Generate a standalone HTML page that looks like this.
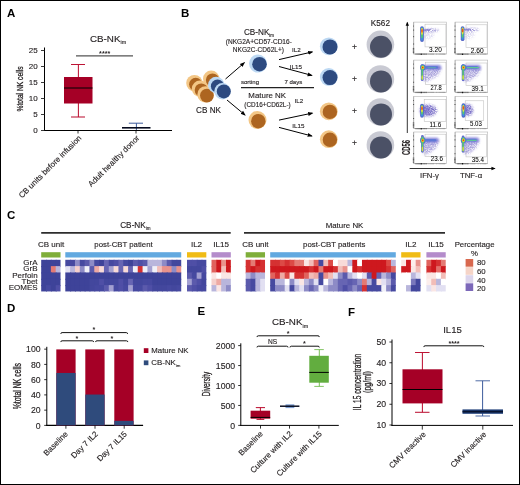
<!DOCTYPE html>
<html lang="en"><head><meta charset="utf-8"><title>Figure</title>
<style>html,body{margin:0;padding:0;background:#fff}svg{display:block;will-change:transform}text{font-family:'Liberation Sans', Arial, Helvetica, sans-serif;}</style></head><body>
<svg width="520" height="485" viewBox="0 0 520 485">
<defs>
<marker id="ah" viewBox="0 0 10 10" refX="8" refY="5" markerWidth="5.4" markerHeight="5.2" orient="auto-start-reverse" markerUnits="userSpaceOnUse"><path d="M0 1.2 L10 5 L0 8.8 z" fill="#000"/></marker>
<marker id="ah2" viewBox="0 0 10 10" refX="8" refY="5" markerWidth="4.6" markerHeight="4.2" orient="auto-start-reverse" markerUnits="userSpaceOnUse"><path d="M0 1 L10 5 L0 9 z" fill="#000"/></marker>
<filter id="b1" x="-30%" y="-30%" width="160%" height="160%"><feGaussianBlur stdDeviation="0.55"/></filter>
<filter id="b2" x="-50%" y="-50%" width="200%" height="200%"><feGaussianBlur stdDeviation="1.6"/></filter>
<filter id="b3" x="-50%" y="-50%" width="200%" height="200%"><feGaussianBlur stdDeviation="0.9"/></filter>
<filter id="sp1" x="-40%" y="-40%" width="180%" height="180%"><feGaussianBlur in="SourceGraphic" stdDeviation="1.3" result="bl"/><feTurbulence type="fractalNoise" baseFrequency="0.85" numOctaves="2" seed="7" result="n"/><feColorMatrix in="n" type="matrix" values="0 0 0 0 0  0 0 0 0 0  0 0 0 0 0  2.6 0 0 0 -0.75" result="m"/><feComposite in="bl" in2="m" operator="in"/></filter>
<filter id="sp2" x="-40%" y="-40%" width="180%" height="180%"><feGaussianBlur in="SourceGraphic" stdDeviation="1.3" result="bl"/><feTurbulence type="fractalNoise" baseFrequency="0.85" numOctaves="2" seed="14" result="n"/><feColorMatrix in="n" type="matrix" values="0 0 0 0 0  0 0 0 0 0  0 0 0 0 0  2.6 0 0 0 -0.75" result="m"/><feComposite in="bl" in2="m" operator="in"/></filter>
<filter id="sp3" x="-40%" y="-40%" width="180%" height="180%"><feGaussianBlur in="SourceGraphic" stdDeviation="1.3" result="bl"/><feTurbulence type="fractalNoise" baseFrequency="0.85" numOctaves="2" seed="21" result="n"/><feColorMatrix in="n" type="matrix" values="0 0 0 0 0  0 0 0 0 0  0 0 0 0 0  2.6 0 0 0 -0.75" result="m"/><feComposite in="bl" in2="m" operator="in"/></filter>
<filter id="sp4" x="-40%" y="-40%" width="180%" height="180%"><feGaussianBlur in="SourceGraphic" stdDeviation="1.3" result="bl"/><feTurbulence type="fractalNoise" baseFrequency="0.85" numOctaves="2" seed="28" result="n"/><feColorMatrix in="n" type="matrix" values="0 0 0 0 0  0 0 0 0 0  0 0 0 0 0  2.6 0 0 0 -0.75" result="m"/><feComposite in="bl" in2="m" operator="in"/></filter>
</defs>
<rect x="0" y="0" width="520" height="485" fill="#fff"/>
<text transform="translate(7.00 17.20)" font-size="11.5" text-anchor="start" font-weight="bold" fill="#000">A</text>
<text transform="translate(181.00 17.00)" font-size="11.5" text-anchor="start" font-weight="bold" fill="#000">B</text>
<text transform="translate(7.00 219.00)" font-size="11.5" text-anchor="start" font-weight="bold" fill="#000">C</text>
<text transform="translate(7.00 312.30)" font-size="11.5" text-anchor="start" font-weight="bold" fill="#000">D</text>
<text transform="translate(197.50 314.60)" font-size="11.5" text-anchor="start" font-weight="bold" fill="#000">E</text>
<text transform="translate(348.00 315.60)" font-size="11.5" text-anchor="start" font-weight="bold" fill="#000">F</text>
<g id="panelA">
<text transform="translate(90.00 42.00)" font-size="9.8" text-anchor="start" fill="#231f20" stroke="#231f20" stroke-width="0.13">CB-NK<tspan font-size="5.39" dy="2.45">im</tspan></text>
<line x1="44.50" y1="47.50" x2="44.50" y2="131.00" stroke="#000" stroke-width="1"/>
<line x1="44.00" y1="130.50" x2="172.00" y2="130.50" stroke="#000" stroke-width="1"/>
<line x1="41.00" y1="130.50" x2="44.50" y2="130.50" stroke="#222" stroke-width="0.9"/>
<text transform="translate(37.60 133.35)" font-size="8.0" text-anchor="end" fill="#231f20" stroke="#231f20" stroke-width="0.13">0</text>
<line x1="41.00" y1="114.50" x2="44.50" y2="114.50" stroke="#222" stroke-width="0.9"/>
<text transform="translate(37.60 117.35)" font-size="8.0" text-anchor="end" fill="#231f20" stroke="#231f20" stroke-width="0.13">5</text>
<line x1="41.00" y1="98.50" x2="44.50" y2="98.50" stroke="#222" stroke-width="0.9"/>
<text transform="translate(37.60 101.35)" font-size="8.0" text-anchor="end" fill="#231f20" stroke="#231f20" stroke-width="0.13">10</text>
<line x1="41.00" y1="82.50" x2="44.50" y2="82.50" stroke="#222" stroke-width="0.9"/>
<text transform="translate(37.60 85.35)" font-size="8.0" text-anchor="end" fill="#231f20" stroke="#231f20" stroke-width="0.13">15</text>
<line x1="41.00" y1="66.50" x2="44.50" y2="66.50" stroke="#222" stroke-width="0.9"/>
<text transform="translate(37.60 69.35)" font-size="8.0" text-anchor="end" fill="#231f20" stroke="#231f20" stroke-width="0.13">20</text>
<line x1="41.00" y1="50.50" x2="44.50" y2="50.50" stroke="#222" stroke-width="0.9"/>
<text transform="translate(37.60 53.35)" font-size="8.0" text-anchor="end" fill="#231f20" stroke="#231f20" stroke-width="0.13">25</text>
<text transform="translate(23.10 89.00) rotate(-90) scale(0.69 1)" font-size="9.7" text-anchor="middle" fill="#231f20" stroke="#231f20" stroke-width="0.3">%total NK cells</text>
<line x1="76.00" y1="55.80" x2="133.00" y2="55.80" stroke="#555" stroke-width="1.2"/>
<text transform="translate(104.70 55.90)" font-size="7.2" text-anchor="middle" font-weight="bold" fill="#231f20">****</text>
<line x1="78.40" y1="64.50" x2="78.40" y2="117.00" stroke="#bd1435" stroke-width="1.05"/>
<line x1="71.00" y1="64.50" x2="85.00" y2="64.50" stroke="#bd1435" stroke-width="1.05"/>
<line x1="71.00" y1="117.00" x2="85.00" y2="117.00" stroke="#bd1435" stroke-width="1.05"/>
<rect x="64.00" y="77.00" width="28.50" height="26.50" fill="#a50026"/>
<line x1="64.00" y1="88.00" x2="92.50" y2="88.00" stroke="#000" stroke-width="1"/>
<line x1="136.40" y1="123.20" x2="136.40" y2="130.00" stroke="#3d5c9c" stroke-width="1.0"/>
<line x1="128.80" y1="123.20" x2="143.00" y2="123.20" stroke="#3d5c9c" stroke-width="1.0"/>
<line x1="122.00" y1="127.80" x2="150.50" y2="127.80" stroke="#050a1e" stroke-width="1.6"/>
<line x1="78.00" y1="130.50" x2="78.00" y2="133.50" stroke="#000" stroke-width="0.8"/>
<line x1="136.00" y1="130.50" x2="136.00" y2="133.50" stroke="#000" stroke-width="0.8"/>
<text transform="translate(82.00 138.50) rotate(-45)" font-size="8.0" text-anchor="end" fill="#231f20" stroke="#231f20" stroke-width="0.13">CB units before infusion</text>
<text transform="translate(140.00 138.50) rotate(-45)" font-size="8.0" text-anchor="end" fill="#231f20" stroke="#231f20" stroke-width="0.13">Adult healthy donor</text>
</g>
<g id="panelB">
<circle cx="194.40" cy="83.10" r="8.20" fill="#f3c685"/>
<circle cx="195.70" cy="84.30" r="6.60" fill="#ad6520"/>
<circle cx="211.20" cy="78.80" r="8.20" fill="#f3c685"/>
<circle cx="212.50" cy="80.00" r="6.60" fill="#ad6520"/>
<circle cx="200.00" cy="88.80" r="8.20" fill="#f3c685"/>
<circle cx="201.30" cy="90.00" r="6.60" fill="#ad6520"/>
<circle cx="205.60" cy="94.40" r="8.20" fill="#f3c685"/>
<circle cx="206.90" cy="95.60" r="6.90" fill="#ad6520"/>
<circle cx="216.20" cy="85.00" r="8.20" fill="#bcd8f3"/>
<circle cx="217.50" cy="86.20" r="6.60" fill="#2d4a80"/>
<circle cx="222.50" cy="91.20" r="8.20" fill="#bcd8f3"/>
<circle cx="223.80" cy="91.40" r="7.00" fill="#2d4a80"/>
<text transform="translate(208.50 113.20)" font-size="8.2" text-anchor="middle" fill="#231f20" stroke="#231f20" stroke-width="0.13">CB NK</text>
<text transform="translate(259.00 34.60)" font-size="8.2" text-anchor="middle" fill="#231f20" stroke="#231f20" stroke-width="0.13">CB-NK<tspan font-size="4.51" dy="2.05">im</tspan></text>
<text transform="translate(258.80 43.80)" font-size="6.55" text-anchor="middle" fill="#231f20" stroke="#231f20" stroke-width="0.13">(NKG2A+CD57-CD16-</text>
<text transform="translate(258.40 51.60)" font-size="6.55" text-anchor="middle" fill="#231f20" stroke="#231f20" stroke-width="0.13">NKG2C-CD62L+)</text>
<text transform="translate(267.20 97.90)" font-size="7.9" text-anchor="middle" fill="#231f20" stroke="#231f20" stroke-width="0.13">Mature NK</text>
<text transform="translate(267.50 106.80)" font-size="6.4" text-anchor="middle" fill="#231f20" stroke="#231f20" stroke-width="0.13">(CD16+CD62L-)</text>
<text transform="translate(250.00 84.20)" font-size="6.05" text-anchor="middle" fill="#231f20" stroke="#231f20" stroke-width="0.13">sorting</text>
<text transform="translate(293.30 84.20)" font-size="6.05" text-anchor="middle" fill="#231f20" stroke="#231f20" stroke-width="0.13">7 days</text>
<line x1="241.00" y1="87.60" x2="314.00" y2="87.60" stroke="#222" stroke-width="1.1"/>
<circle cx="258.00" cy="63.60" r="9.00" fill="#bcd8f3"/>
<circle cx="259.50" cy="64.20" r="7.30" fill="#2d4a80"/>
<circle cx="257.50" cy="120.00" r="9.00" fill="#f3c685"/>
<circle cx="258.30" cy="121.20" r="7.20" fill="#ad6520"/>
<line x1="225.5" y1="79" x2="244.3" y2="62.8" stroke="#000" stroke-width="1.0" marker-end="url(#ah)"/>
<line x1="227" y1="100" x2="245" y2="115" stroke="#000" stroke-width="1.0" marker-end="url(#ah)"/>
<line x1="279" y1="59.6" x2="312.3" y2="51.9" stroke="#000" stroke-width="1.0" marker-end="url(#ah)"/>
<line x1="279" y1="66.5" x2="311.8" y2="75.4" stroke="#000" stroke-width="1.0" marker-end="url(#ah)"/>
<line x1="279" y1="120.1" x2="312.3" y2="113.1" stroke="#000" stroke-width="1.0" marker-end="url(#ah)"/>
<line x1="279" y1="127.4" x2="311.8" y2="136.0" stroke="#000" stroke-width="1.0" marker-end="url(#ah)"/>
<text transform="translate(296.30 52.30)" font-size="6.25" text-anchor="middle" fill="#231f20" stroke="#231f20" stroke-width="0.13">IL2</text>
<text transform="translate(295.80 69.00)" font-size="6.25" text-anchor="middle" fill="#231f20" stroke="#231f20" stroke-width="0.13">IL15</text>
<text transform="translate(298.80 102.80)" font-size="6.25" text-anchor="middle" fill="#231f20" stroke="#231f20" stroke-width="0.13">IL2</text>
<text transform="translate(298.30 127.80)" font-size="6.25" text-anchor="middle" fill="#231f20" stroke="#231f20" stroke-width="0.13">IL15</text>
<circle cx="328.80" cy="46.30" r="8.90" fill="#bcd8f3"/>
<circle cx="330.00" cy="46.90" r="7.50" fill="#2d4a80"/>
<circle cx="328.80" cy="77.00" r="8.90" fill="#bcd8f3"/>
<circle cx="330.00" cy="77.60" r="7.50" fill="#2d4a80"/>
<circle cx="328.80" cy="111.30" r="8.90" fill="#f3c685"/>
<circle cx="329.90" cy="111.90" r="7.20" fill="#ad6520"/>
<circle cx="328.80" cy="139.20" r="8.90" fill="#f3c685"/>
<circle cx="329.90" cy="139.80" r="7.20" fill="#ad6520"/>
<text transform="translate(354.40 49.60)" font-size="8.5" text-anchor="middle" fill="#231f20" stroke="#231f20" stroke-width="0.13">+</text>
<text transform="translate(354.40 81.90)" font-size="8.5" text-anchor="middle" fill="#231f20" stroke="#231f20" stroke-width="0.13">+</text>
<text transform="translate(354.40 113.70)" font-size="8.5" text-anchor="middle" fill="#231f20" stroke="#231f20" stroke-width="0.13">+</text>
<text transform="translate(354.40 146.10)" font-size="8.5" text-anchor="middle" fill="#231f20" stroke="#231f20" stroke-width="0.13">+</text>
<text transform="translate(380.40 25.90)" font-size="8.2" text-anchor="middle" fill="#231f20" stroke="#231f20" stroke-width="0.13">K562</text>
<circle cx="380.40" cy="44.40" r="13.80" fill="#c9cad3"/>
<circle cx="381.00" cy="46.80" r="11.00" fill="#4b5166"/>
<circle cx="380.40" cy="79.00" r="13.80" fill="#c9cad3"/>
<circle cx="381.00" cy="81.40" r="11.00" fill="#4b5166"/>
<circle cx="380.40" cy="112.00" r="13.80" fill="#c9cad3"/>
<circle cx="381.00" cy="114.40" r="11.00" fill="#4b5166"/>
<circle cx="380.40" cy="145.00" r="13.80" fill="#c9cad3"/>
<circle cx="381.00" cy="147.40" r="11.00" fill="#4b5166"/>
<line x1="407.3" y1="133" x2="407.3" y2="22.5" stroke="#000" stroke-width="0.8" marker-end="url(#ah2)"/>
<line x1="409.6" y1="168.5" x2="494.8" y2="168.5" stroke="#000" stroke-width="0.8" marker-end="url(#ah2)"/>
<text transform="translate(410.10 147.50) rotate(-90) scale(0.585 1)" font-size="10.2" text-anchor="middle" font-weight="bold" fill="#231f20" stroke="#231f20" stroke-width="0.12">CD56</text>
<text transform="translate(429.40 178.30)" font-size="7.7" text-anchor="middle" fill="#231f20" stroke="#231f20" stroke-width="0.13">IFN-γ</text>
<text transform="translate(471.00 178.30)" font-size="7.8" text-anchor="middle" fill="#231f20" stroke="#231f20" stroke-width="0.13">TNF-α</text>
<g>
<rect x="413.70" y="22.10" width="32.60" height="31.90" fill="#fff" stroke="#b4b4b4" stroke-width="0.6"/>
<path d="M413.70 22.10V54.00H446.30" fill="none" stroke="#9c9c9c" stroke-width="0.6"/>
<path d="M413.20 26.09h0.80M413.00 30.08h1.12M413.00 36.65h1.12M413.00 44.03h1.12M412.80 48.42h1.44M412.80 49.81h1.44M412.80 51.21h1.44M412.80 52.60h1.44" stroke="#3a3a3a" stroke-width="0.8" fill="none"/>
<path d="M415.90 53.50v1.3M417.10 53.50v1.3M418.20 53.50v1.3M419.20 53.50v1.3M420.10 53.50v1.3M422.20 53.50v1.3M423.40 53.50v1.3M424.50 53.50v1.3M425.70 53.50v1.3M426.70 53.50v1.3" stroke="#333" stroke-width="0.55" fill="none"/>
<path d="M420.70 54.20h1" stroke="#000" stroke-width="1.4" fill="none"/>
<path d="M428.70 53.60v1.1M429.90 53.60v1.1M430.90 53.60v1.1M431.80 53.60v1.1M432.70 53.60v1.1M433.50 53.60v1.1M436.70 53.60v1.1M439.20 53.60v1.1M440.70 53.60v1.1M441.90 53.60v1.1M442.90 53.60v1.1M443.70 53.60v1.1M444.50 53.60v1.1" stroke="#8a8a8a" stroke-width="0.5" fill="none"/>
<rect x="425.00" y="24.20" width="20.90" height="22.70" fill="none" stroke="#bdbdbd" stroke-width="0.55"/>
<g filter="url(#sp1)">
<ellipse cx="430.75" cy="30.20" rx="8.25" ry="1.5" fill="#766cc6" opacity="0.95"/>
<ellipse cx="428.00" cy="34.30" rx="6" ry="5" fill="#766cc6" opacity="0.25"/>
</g>
<ellipse cx="426.50" cy="30.00" rx="3.8" ry="1.0" fill="#6a60c8" opacity="0.55" filter="url(#b1)"/>
<g filter="url(#b1)">
<rect x="420.15" y="26.20" width="3.7" height="15.70" rx="1.85" fill="#5565c6"/>
<rect x="420.85" y="27.20" width="2.3" height="13.50" rx="1.1" fill="#3f90dc"/>
<rect x="421.15" y="27.80" width="1.7" height="10.36" rx="0.8" fill="#58cc6e"/>
<ellipse cx="422.00" cy="31.40" rx="0.95" ry="3.4" fill="#e9e23a"/>
<ellipse cx="422.00" cy="30.80" rx="0.8" ry="1.9" fill="#f0501e"/>
</g>
<text transform="translate(435.43 51.80) scale(1.016 1)" font-size="6.4" text-anchor="middle" fill="#000" stroke="#000" stroke-width="0.05">3.20</text>
</g>
<g>
<rect x="455.10" y="22.10" width="32.60" height="31.90" fill="#fff" stroke="#b4b4b4" stroke-width="0.6"/>
<path d="M455.10 22.10V54.00H487.70" fill="none" stroke="#9c9c9c" stroke-width="0.6"/>
<path d="M454.60 26.09h0.80M454.40 30.08h1.12M454.40 36.65h1.12M454.40 44.03h1.12M454.20 48.42h1.44M454.20 49.81h1.44M454.20 51.21h1.44M454.20 52.60h1.44" stroke="#3a3a3a" stroke-width="0.8" fill="none"/>
<path d="M457.30 53.50v1.3M458.50 53.50v1.3M459.60 53.50v1.3M460.60 53.50v1.3M461.50 53.50v1.3M463.60 53.50v1.3M464.80 53.50v1.3M465.90 53.50v1.3M467.10 53.50v1.3M468.10 53.50v1.3" stroke="#333" stroke-width="0.55" fill="none"/>
<path d="M462.10 54.20h1" stroke="#000" stroke-width="1.4" fill="none"/>
<path d="M470.10 53.60v1.1M471.30 53.60v1.1M472.30 53.60v1.1M473.20 53.60v1.1M474.10 53.60v1.1M474.90 53.60v1.1M478.10 53.60v1.1M480.60 53.60v1.1M482.10 53.60v1.1M483.30 53.60v1.1M484.30 53.60v1.1M485.10 53.60v1.1M485.90 53.60v1.1" stroke="#8a8a8a" stroke-width="0.5" fill="none"/>
<rect x="466.00" y="24.80" width="21.00" height="22.50" fill="none" stroke="#bdbdbd" stroke-width="0.55"/>
<g filter="url(#sp2)">
<ellipse cx="471.05" cy="29.80" rx="7.95" ry="1.5" fill="#766cc6" opacity="0.95"/>
<ellipse cx="468.60" cy="33.90" rx="6" ry="5" fill="#766cc6" opacity="0.25"/>
</g>
<ellipse cx="467.10" cy="29.60" rx="3.8" ry="1.0" fill="#6a60c8" opacity="0.55" filter="url(#b1)"/>
<g filter="url(#b1)">
<rect x="460.75" y="26.20" width="3.7" height="14.90" rx="1.85" fill="#5565c6"/>
<rect x="461.45" y="27.20" width="2.3" height="12.70" rx="1.1" fill="#3f90dc"/>
<rect x="461.75" y="27.80" width="1.7" height="9.83" rx="0.8" fill="#58cc6e"/>
<ellipse cx="462.60" cy="31.00" rx="0.95" ry="3.4" fill="#e9e23a"/>
<ellipse cx="462.60" cy="30.40" rx="0.8" ry="1.9" fill="#f0501e"/>
</g>
<text transform="translate(477.27 52.60) scale(1.04 1)" font-size="6.4" text-anchor="middle" fill="#000" stroke="#000" stroke-width="0.05">2.60</text>
</g>
<g>
<rect x="413.70" y="60.10" width="32.60" height="32.20" fill="#fff" stroke="#b4b4b4" stroke-width="0.6"/>
<path d="M413.70 60.10V92.30H446.30" fill="none" stroke="#9c9c9c" stroke-width="0.6"/>
<path d="M413.20 64.12h0.80M413.00 68.15h1.12M413.00 74.79h1.12M413.00 82.24h1.12M412.80 86.66h1.44M412.80 88.07h1.44M412.80 89.48h1.44M412.80 90.89h1.44" stroke="#3a3a3a" stroke-width="0.8" fill="none"/>
<path d="M415.90 91.80v1.3M417.10 91.80v1.3M418.20 91.80v1.3M419.20 91.80v1.3M420.10 91.80v1.3M422.20 91.80v1.3M423.40 91.80v1.3M424.50 91.80v1.3M425.70 91.80v1.3M426.70 91.80v1.3" stroke="#333" stroke-width="0.55" fill="none"/>
<path d="M420.70 92.50h1" stroke="#000" stroke-width="1.4" fill="none"/>
<path d="M428.70 91.90v1.1M429.90 91.90v1.1M430.90 91.90v1.1M431.80 91.90v1.1M432.70 91.90v1.1M433.50 91.90v1.1M436.70 91.90v1.1M439.20 91.90v1.1M440.70 91.90v1.1M441.90 91.90v1.1M442.90 91.90v1.1M443.70 91.90v1.1M444.50 91.90v1.1" stroke="#8a8a8a" stroke-width="0.5" fill="none"/>
<rect x="425.30" y="62.20" width="20.60" height="22.30" fill="none" stroke="#bdbdbd" stroke-width="0.55"/>
<path d="M423.30 68.50 L440.30 68.50 L437.30 74.50 L426.80 80.00 L423.30 80.50 z" fill="#766cc6" opacity="0.2" filter="url(#b2)"/>
<g filter="url(#sp3)">
<path d="M423.30 68.50 L441.80 68.50 L438.30 75.50 L427.80 81.50 L423.30 81.50 z" fill="#766cc6" opacity="0.55"/>
</g>
<rect x="423.80" y="64.90" width="17.50" height="5.0" rx="2.5" fill="#6f6cd2" opacity="0.85" filter="url(#b3)"/>
<rect x="424.30" y="66.00" width="13.69" height="2.7" rx="1.3" fill="#4f74d6" opacity="0.7" filter="url(#b1)"/>
<rect x="427.50" y="67.00" width="8.50" height="1.2" rx="0.6" fill="#5fcf8f" opacity="0.45" filter="url(#b1)"/>
<g filter="url(#b1)">
<rect x="420.85" y="64.20" width="2.7" height="16.80" rx="1.35" fill="#626ace"/>
<ellipse cx="422.80" cy="67.50" rx="2.7" ry="3.3" fill="#626ace"/>
<ellipse cx="422.80" cy="67.50" rx="2.1" ry="2.7" fill="#3f88dc"/>
<rect x="421.45" y="65.70" width="1.5" height="14.20" rx="0.75" fill="#58cc6e"/>
<ellipse cx="422.80" cy="67.50" rx="1.75" ry="2.3" fill="#5fcf62"/>
<ellipse cx="422.80" cy="67.50" rx="1.3" ry="1.75" fill="#efe22e"/>
<ellipse cx="422.80" cy="67.50" rx="0.85" ry="1.05" fill="#f0401a"/>
<ellipse cx="422.20" cy="77.60" rx="0.75" ry="2.4" fill="#d8e23a"/>
</g>
<text transform="translate(436.18 90.20) scale(0.9 1)" font-size="6.4" text-anchor="middle" fill="#000" stroke="#000" stroke-width="0.05">27.8</text>
</g>
<g>
<rect x="455.10" y="60.10" width="32.60" height="32.20" fill="#fff" stroke="#b4b4b4" stroke-width="0.6"/>
<path d="M455.10 60.10V92.30H487.70" fill="none" stroke="#9c9c9c" stroke-width="0.6"/>
<path d="M454.60 64.12h0.80M454.40 68.15h1.12M454.40 74.79h1.12M454.40 82.24h1.12M454.20 86.66h1.44M454.20 88.07h1.44M454.20 89.48h1.44M454.20 90.89h1.44" stroke="#3a3a3a" stroke-width="0.8" fill="none"/>
<path d="M457.30 91.80v1.3M458.50 91.80v1.3M459.60 91.80v1.3M460.60 91.80v1.3M461.50 91.80v1.3M463.60 91.80v1.3M464.80 91.80v1.3M465.90 91.80v1.3M467.10 91.80v1.3M468.10 91.80v1.3" stroke="#333" stroke-width="0.55" fill="none"/>
<path d="M462.10 92.50h1" stroke="#000" stroke-width="1.4" fill="none"/>
<path d="M470.10 91.90v1.1M471.30 91.90v1.1M472.30 91.90v1.1M473.20 91.90v1.1M474.10 91.90v1.1M474.90 91.90v1.1M478.10 91.90v1.1M480.60 91.90v1.1M482.10 91.90v1.1M483.30 91.90v1.1M484.30 91.90v1.1M485.10 91.90v1.1M485.90 91.90v1.1" stroke="#8a8a8a" stroke-width="0.5" fill="none"/>
<rect x="466.00" y="63.00" width="21.00" height="22.30" fill="none" stroke="#bdbdbd" stroke-width="0.55"/>
<path d="M464.00 68.50 L479.90 68.50 L476.90 74.50 L467.50 80.00 L464.00 80.50 z" fill="#766cc6" opacity="0.2" filter="url(#b2)"/>
<g filter="url(#sp4)">
<path d="M464.00 68.50 L481.40 68.50 L477.90 75.50 L468.50 81.50 L464.00 81.50 z" fill="#766cc6" opacity="0.55"/>
</g>
<rect x="464.50" y="64.90" width="16.40" height="5.0" rx="2.5" fill="#6f6cd2" opacity="0.85" filter="url(#b3)"/>
<rect x="465.00" y="66.00" width="12.88" height="2.7" rx="1.3" fill="#4f74d6" opacity="0.7" filter="url(#b1)"/>
<rect x="466.80" y="67.00" width="12.40" height="1.2" rx="0.6" fill="#5fcf8f" opacity="0.9" filter="url(#b1)"/>
<g filter="url(#b1)">
<rect x="461.75" y="64.20" width="2.7" height="17.00" rx="1.35" fill="#626ace"/>
<ellipse cx="463.50" cy="67.50" rx="2.7" ry="3.3" fill="#626ace"/>
<ellipse cx="463.50" cy="67.50" rx="2.1" ry="2.7" fill="#3f88dc"/>
<rect x="462.35" y="65.70" width="1.5" height="14.40" rx="0.75" fill="#58cc6e"/>
<ellipse cx="463.50" cy="67.50" rx="1.75" ry="2.3" fill="#5fcf62"/>
<ellipse cx="463.50" cy="67.50" rx="1.3" ry="1.75" fill="#efe22e"/>
<ellipse cx="463.50" cy="67.50" rx="0.85" ry="1.05" fill="#f0401a"/>
<ellipse cx="463.10" cy="77.40" rx="0.75" ry="2.4" fill="#d8e23a"/>
</g>
<text transform="translate(477.68 90.50) scale(0.975 1)" font-size="6.4" text-anchor="middle" fill="#000" stroke="#000" stroke-width="0.05">39.1</text>
</g>
<g>
<rect x="413.70" y="96.50" width="32.60" height="32.00" fill="#fff" stroke="#b4b4b4" stroke-width="0.6"/>
<path d="M413.70 96.50V128.50H446.30" fill="none" stroke="#9c9c9c" stroke-width="0.6"/>
<path d="M413.20 100.50h0.80M413.00 104.50h1.12M413.00 111.10h1.12M413.00 118.50h1.12M412.80 122.90h1.44M412.80 124.30h1.44M412.80 125.70h1.44M412.80 127.10h1.44" stroke="#3a3a3a" stroke-width="0.8" fill="none"/>
<path d="M415.90 128.00v1.3M417.10 128.00v1.3M418.20 128.00v1.3M419.20 128.00v1.3M420.10 128.00v1.3M422.20 128.00v1.3M423.40 128.00v1.3M424.50 128.00v1.3M425.70 128.00v1.3M426.70 128.00v1.3" stroke="#333" stroke-width="0.55" fill="none"/>
<path d="M420.70 128.70h1" stroke="#000" stroke-width="1.4" fill="none"/>
<path d="M428.70 128.10v1.1M429.90 128.10v1.1M430.90 128.10v1.1M431.80 128.10v1.1M432.70 128.10v1.1M433.50 128.10v1.1M436.70 128.10v1.1M439.20 128.10v1.1M440.70 128.10v1.1M441.90 128.10v1.1M442.90 128.10v1.1M443.70 128.10v1.1M444.50 128.10v1.1" stroke="#8a8a8a" stroke-width="0.5" fill="none"/>
<rect x="424.20" y="99.60" width="21.70" height="21.90" fill="none" stroke="#bdbdbd" stroke-width="0.55"/>
<ellipse cx="427.78" cy="110.50" rx="7.60" ry="5.2" fill="#766cc6" opacity="0.35" filter="url(#b2)"/>
<g filter="url(#sp1)">
<ellipse cx="428.38" cy="110.50" rx="8.82" ry="6.0" fill="#766cc6" opacity="0.95"/>
</g>
<ellipse cx="425.80" cy="110.30" rx="4.56" ry="4.6" fill="#6a62c6" opacity="0.5" filter="url(#b3)"/>
<g filter="url(#b1)">
<rect x="420.15" y="103.70" width="3.7" height="14.00" rx="1.85" fill="#5565c6"/>
<rect x="420.85" y="104.70" width="2.3" height="11.80" rx="1.1" fill="#3f90dc"/>
<rect x="421.15" y="105.30" width="1.7" height="9.24" rx="0.8" fill="#58cc6e"/>
<ellipse cx="422.00" cy="108.90" rx="0.95" ry="3.4" fill="#e9e23a"/>
<ellipse cx="422.00" cy="108.30" rx="0.8" ry="1.9" fill="#f0501e"/>
</g>
<text transform="translate(435.35 126.80) scale(0.993 1)" font-size="6.4" text-anchor="middle" fill="#000" stroke="#000" stroke-width="0.05">11.6</text>
</g>
<g>
<rect x="455.10" y="96.50" width="32.60" height="32.00" fill="#fff" stroke="#b4b4b4" stroke-width="0.6"/>
<path d="M455.10 96.50V128.50H487.70" fill="none" stroke="#9c9c9c" stroke-width="0.6"/>
<path d="M454.60 100.50h0.80M454.40 104.50h1.12M454.40 111.10h1.12M454.40 118.50h1.12M454.20 122.90h1.44M454.20 124.30h1.44M454.20 125.70h1.44M454.20 127.10h1.44" stroke="#3a3a3a" stroke-width="0.8" fill="none"/>
<path d="M457.30 128.00v1.3M458.50 128.00v1.3M459.60 128.00v1.3M460.60 128.00v1.3M461.50 128.00v1.3M463.60 128.00v1.3M464.80 128.00v1.3M465.90 128.00v1.3M467.10 128.00v1.3M468.10 128.00v1.3" stroke="#333" stroke-width="0.55" fill="none"/>
<path d="M462.10 128.70h1" stroke="#000" stroke-width="1.4" fill="none"/>
<path d="M470.10 128.10v1.1M471.30 128.10v1.1M472.30 128.10v1.1M473.20 128.10v1.1M474.10 128.10v1.1M474.90 128.10v1.1M478.10 128.10v1.1M480.60 128.10v1.1M482.10 128.10v1.1M483.30 128.10v1.1M484.30 128.10v1.1M485.10 128.10v1.1M485.90 128.10v1.1" stroke="#8a8a8a" stroke-width="0.5" fill="none"/>
<rect x="465.20" y="100.80" width="18.55" height="19.80" fill="none" stroke="#bdbdbd" stroke-width="0.55"/>
<ellipse cx="467.20" cy="110.00" rx="5.00" ry="5.2" fill="#766cc6" opacity="0.35" filter="url(#b2)"/>
<g filter="url(#sp2)">
<ellipse cx="467.60" cy="110.00" rx="5.80" ry="6.0" fill="#766cc6" opacity="0.95"/>
</g>
<ellipse cx="465.90" cy="109.80" rx="3.00" ry="4.6" fill="#6a62c6" opacity="0.5" filter="url(#b3)"/>
<g filter="url(#b1)">
<rect x="461.55" y="103.30" width="3.7" height="14.40" rx="1.85" fill="#5565c6"/>
<rect x="462.25" y="104.30" width="2.3" height="12.20" rx="1.1" fill="#3f90dc"/>
<rect x="462.55" y="104.90" width="1.7" height="9.50" rx="0.8" fill="#58cc6e"/>
<ellipse cx="463.40" cy="108.40" rx="0.95" ry="3.4" fill="#e9e23a"/>
<ellipse cx="463.40" cy="107.80" rx="0.8" ry="1.9" fill="#f0501e"/>
</g>
<text transform="translate(475.95 125.60) scale(0.955 1)" font-size="6.4" text-anchor="middle" fill="#000" stroke="#000" stroke-width="0.05">5.03</text>
</g>
<g>
<rect x="413.70" y="132.00" width="32.60" height="31.60" fill="#fff" stroke="#b4b4b4" stroke-width="0.6"/>
<path d="M413.70 132.00V163.60H446.30" fill="none" stroke="#9c9c9c" stroke-width="0.6"/>
<path d="M413.20 135.95h0.80M413.00 139.90h1.12M413.00 146.42h1.12M413.00 153.72h1.12M412.80 158.07h1.44M412.80 159.45h1.44M412.80 160.83h1.44M412.80 162.22h1.44" stroke="#3a3a3a" stroke-width="0.8" fill="none"/>
<path d="M415.90 163.10v1.3M417.10 163.10v1.3M418.20 163.10v1.3M419.20 163.10v1.3M420.10 163.10v1.3M422.20 163.10v1.3M423.40 163.10v1.3M424.50 163.10v1.3M425.70 163.10v1.3M426.70 163.10v1.3" stroke="#333" stroke-width="0.55" fill="none"/>
<path d="M420.70 163.80h1" stroke="#000" stroke-width="1.4" fill="none"/>
<path d="M428.70 163.20v1.1M429.90 163.20v1.1M430.90 163.20v1.1M431.80 163.20v1.1M432.70 163.20v1.1M433.50 163.20v1.1M436.70 163.20v1.1M439.20 163.20v1.1M440.70 163.20v1.1M441.90 163.20v1.1M442.90 163.20v1.1M443.70 163.20v1.1M444.50 163.20v1.1" stroke="#8a8a8a" stroke-width="0.5" fill="none"/>
<rect x="425.00" y="134.20" width="20.90" height="22.30" fill="none" stroke="#bdbdbd" stroke-width="0.55"/>
<path d="M423.30 141.40 L437.90 141.40 L434.90 147.40 L426.80 152.90 L423.30 153.40 z" fill="#766cc6" opacity="0.2" filter="url(#b2)"/>
<g filter="url(#sp3)">
<path d="M423.30 141.40 L439.40 141.40 L435.90 148.40 L427.80 154.40 L423.30 154.40 z" fill="#766cc6" opacity="0.55"/>
</g>
<rect x="423.80" y="137.80" width="15.10" height="5.0" rx="2.5" fill="#6f6cd2" opacity="0.85" filter="url(#b3)"/>
<rect x="424.30" y="138.90" width="11.91" height="2.7" rx="1.3" fill="#4f74d6" opacity="0.7" filter="url(#b1)"/>
<g filter="url(#b1)">
<rect x="421.05" y="135.00" width="2.7" height="17.70" rx="1.35" fill="#626ace"/>
<ellipse cx="422.80" cy="140.40" rx="2.7" ry="3.3" fill="#626ace"/>
<ellipse cx="422.80" cy="140.40" rx="2.1" ry="2.7" fill="#3f88dc"/>
<rect x="421.65" y="136.50" width="1.5" height="15.10" rx="0.75" fill="#58cc6e"/>
<ellipse cx="422.80" cy="140.40" rx="1.75" ry="2.3" fill="#5fcf62"/>
<ellipse cx="422.80" cy="140.40" rx="1.3" ry="1.75" fill="#efe22e"/>
<ellipse cx="422.80" cy="140.40" rx="0.85" ry="1.05" fill="#f0401a"/>
<ellipse cx="422.40" cy="149.00" rx="0.75" ry="2.4" fill="#d8e23a"/>
</g>
<text transform="translate(436.90 161.40) scale(0.979 1)" font-size="6.4" text-anchor="middle" fill="#000" stroke="#000" stroke-width="0.05">23.6</text>
</g>
<g>
<rect x="455.10" y="132.00" width="32.60" height="31.60" fill="#fff" stroke="#b4b4b4" stroke-width="0.6"/>
<path d="M455.10 132.00V163.60H487.70" fill="none" stroke="#9c9c9c" stroke-width="0.6"/>
<path d="M454.60 135.95h0.80M454.40 139.90h1.12M454.40 146.42h1.12M454.40 153.72h1.12M454.20 158.07h1.44M454.20 159.45h1.44M454.20 160.83h1.44M454.20 162.22h1.44" stroke="#3a3a3a" stroke-width="0.8" fill="none"/>
<path d="M457.30 163.10v1.3M458.50 163.10v1.3M459.60 163.10v1.3M460.60 163.10v1.3M461.50 163.10v1.3M463.60 163.10v1.3M464.80 163.10v1.3M465.90 163.10v1.3M467.10 163.10v1.3M468.10 163.10v1.3" stroke="#333" stroke-width="0.55" fill="none"/>
<path d="M462.10 163.80h1" stroke="#000" stroke-width="1.4" fill="none"/>
<path d="M470.10 163.20v1.1M471.30 163.20v1.1M472.30 163.20v1.1M473.20 163.20v1.1M474.10 163.20v1.1M474.90 163.20v1.1M478.10 163.20v1.1M480.60 163.20v1.1M482.10 163.20v1.1M483.30 163.20v1.1M484.30 163.20v1.1M485.10 163.20v1.1M485.90 163.20v1.1" stroke="#8a8a8a" stroke-width="0.5" fill="none"/>
<rect x="466.00" y="134.60" width="20.60" height="22.30" fill="none" stroke="#bdbdbd" stroke-width="0.55"/>
<path d="M464.00 141.20 L478.20 141.20 L475.20 147.20 L467.50 152.70 L464.00 153.20 z" fill="#766cc6" opacity="0.2" filter="url(#b2)"/>
<g filter="url(#sp4)">
<path d="M464.00 141.20 L479.70 141.20 L476.20 148.20 L468.50 154.20 L464.00 154.20 z" fill="#766cc6" opacity="0.55"/>
</g>
<rect x="464.50" y="137.60" width="14.70" height="5.0" rx="2.5" fill="#6f6cd2" opacity="0.85" filter="url(#b3)"/>
<rect x="465.00" y="138.70" width="11.62" height="2.7" rx="1.3" fill="#4f74d6" opacity="0.7" filter="url(#b1)"/>
<rect x="466.40" y="139.70" width="10.30" height="1.2" rx="0.6" fill="#5fcf8f" opacity="0.9" filter="url(#b1)"/>
<g filter="url(#b1)">
<rect x="461.75" y="135.40" width="2.7" height="17.30" rx="1.35" fill="#626ace"/>
<ellipse cx="463.50" cy="140.20" rx="2.7" ry="3.3" fill="#626ace"/>
<ellipse cx="463.50" cy="140.20" rx="2.1" ry="2.7" fill="#3f88dc"/>
<rect x="462.35" y="136.90" width="1.5" height="14.70" rx="0.75" fill="#58cc6e"/>
<ellipse cx="463.50" cy="140.20" rx="1.75" ry="2.3" fill="#5fcf62"/>
<ellipse cx="463.50" cy="140.20" rx="1.3" ry="1.75" fill="#efe22e"/>
<ellipse cx="463.50" cy="140.20" rx="0.85" ry="1.05" fill="#f0401a"/>
<ellipse cx="463.10" cy="149.00" rx="0.75" ry="2.4" fill="#d8e23a"/>
</g>
<text transform="translate(477.90 161.80) scale(0.979 1)" font-size="6.4" text-anchor="middle" fill="#000" stroke="#000" stroke-width="0.05">35.4</text>
</g>
</g>
<g id="panelC">
<rect x="41.20" y="252.20" width="19.32" height="5.30" fill="#7fae3a"/>
<rect x="41.20" y="259.80" width="5.83" height="7.33" fill="#3e4399"/>
<rect x="46.03" y="259.80" width="5.83" height="7.33" fill="#3e4399"/>
<rect x="50.86" y="259.80" width="5.83" height="7.33" fill="#3e4399"/>
<rect x="55.69" y="259.80" width="4.83" height="7.33" fill="#3e4399"/>
<rect x="41.20" y="266.13" width="5.83" height="7.33" fill="#3e4399"/>
<rect x="46.03" y="266.13" width="5.83" height="7.33" fill="#3e4399"/>
<rect x="50.86" y="266.13" width="5.83" height="7.33" fill="#e47a74"/>
<rect x="55.69" y="266.13" width="4.83" height="7.33" fill="#b9b6dc"/>
<rect x="41.20" y="272.46" width="5.83" height="7.33" fill="#3e4399"/>
<rect x="46.03" y="272.46" width="5.83" height="7.33" fill="#3e4399"/>
<rect x="50.86" y="272.46" width="5.83" height="7.33" fill="#3e4399"/>
<rect x="55.69" y="272.46" width="4.83" height="7.33" fill="#3e4399"/>
<rect x="41.20" y="278.79" width="5.83" height="7.33" fill="#3e4399"/>
<rect x="46.03" y="278.79" width="5.83" height="7.33" fill="#3e4399"/>
<rect x="50.86" y="278.79" width="5.83" height="7.33" fill="#3e4399"/>
<rect x="55.69" y="278.79" width="4.83" height="7.33" fill="#3e4399"/>
<rect x="41.20" y="285.12" width="5.83" height="6.33" fill="#3e4399"/>
<rect x="46.03" y="285.12" width="5.83" height="6.33" fill="#4649a0"/>
<rect x="50.86" y="285.12" width="5.83" height="6.33" fill="#3e4399"/>
<rect x="55.69" y="285.12" width="4.83" height="6.33" fill="#4f4fa6"/>
<rect x="65.30" y="252.20" width="115.92" height="5.30" fill="#62a9e0"/>
<rect x="65.30" y="259.80" width="5.83" height="7.33" fill="#4649a0"/>
<rect x="70.13" y="259.80" width="5.83" height="7.33" fill="#4649a0"/>
<rect x="74.96" y="259.80" width="5.83" height="7.33" fill="#8d8bc6"/>
<rect x="79.79" y="259.80" width="5.83" height="7.33" fill="#4649a0"/>
<rect x="84.62" y="259.80" width="5.83" height="7.33" fill="#5b5aac"/>
<rect x="89.45" y="259.80" width="5.83" height="7.33" fill="#8d8bc6"/>
<rect x="94.28" y="259.80" width="5.83" height="7.33" fill="#4649a0"/>
<rect x="99.11" y="259.80" width="5.83" height="7.33" fill="#3e4399"/>
<rect x="103.94" y="259.80" width="5.83" height="7.33" fill="#6765b3"/>
<rect x="108.77" y="259.80" width="5.83" height="7.33" fill="#4649a0"/>
<rect x="113.60" y="259.80" width="5.83" height="7.33" fill="#4f4fa6"/>
<rect x="118.43" y="259.80" width="5.83" height="7.33" fill="#6765b3"/>
<rect x="123.26" y="259.80" width="5.83" height="7.33" fill="#4649a0"/>
<rect x="128.09" y="259.80" width="5.83" height="7.33" fill="#3e4399"/>
<rect x="132.92" y="259.80" width="5.83" height="7.33" fill="#5b5aac"/>
<rect x="137.75" y="259.80" width="5.83" height="7.33" fill="#4f4fa6"/>
<rect x="142.58" y="259.80" width="5.83" height="7.33" fill="#5b5aac"/>
<rect x="147.41" y="259.80" width="5.83" height="7.33" fill="#b9b6dc"/>
<rect x="152.24" y="259.80" width="5.83" height="7.33" fill="#b9b6dc"/>
<rect x="157.07" y="259.80" width="5.83" height="7.33" fill="#b9b6dc"/>
<rect x="161.90" y="259.80" width="5.83" height="7.33" fill="#8d8bc6"/>
<rect x="166.73" y="259.80" width="5.83" height="7.33" fill="#5b5aac"/>
<rect x="171.56" y="259.80" width="5.83" height="7.33" fill="#43479d"/>
<rect x="176.39" y="259.80" width="4.83" height="7.33" fill="#43479d"/>
<rect x="65.30" y="266.13" width="5.83" height="7.33" fill="#e2e0f2"/>
<rect x="70.13" y="266.13" width="5.83" height="7.33" fill="#b9b6dc"/>
<rect x="74.96" y="266.13" width="5.83" height="7.33" fill="#f5d0cc"/>
<rect x="79.79" y="266.13" width="5.83" height="7.33" fill="#8d8bc6"/>
<rect x="84.62" y="266.13" width="5.83" height="7.33" fill="#f0f0f8"/>
<rect x="89.45" y="266.13" width="5.83" height="7.33" fill="#5b5aac"/>
<rect x="94.28" y="266.13" width="5.83" height="7.33" fill="#eeaaa4"/>
<rect x="99.11" y="266.13" width="5.83" height="7.33" fill="#f8dbd8"/>
<rect x="103.94" y="266.13" width="5.83" height="7.33" fill="#6765b3"/>
<rect x="108.77" y="266.13" width="5.83" height="7.33" fill="#a3a0d1"/>
<rect x="113.60" y="266.13" width="5.83" height="7.33" fill="#f8dbd8"/>
<rect x="118.43" y="266.13" width="5.83" height="7.33" fill="#6765b3"/>
<rect x="123.26" y="266.13" width="5.83" height="7.33" fill="#f8dbd8"/>
<rect x="128.09" y="266.13" width="5.83" height="7.33" fill="#6765b3"/>
<rect x="132.92" y="266.13" width="5.83" height="7.33" fill="#f0f0f8"/>
<rect x="137.75" y="266.13" width="5.83" height="7.33" fill="#d53132"/>
<rect x="142.58" y="266.13" width="5.83" height="7.33" fill="#f0f0f8"/>
<rect x="147.41" y="266.13" width="5.83" height="7.33" fill="#a3a0d1"/>
<rect x="152.24" y="266.13" width="5.83" height="7.33" fill="#f0f0f8"/>
<rect x="157.07" y="266.13" width="5.83" height="7.33" fill="#f2bdb8"/>
<rect x="161.90" y="266.13" width="5.83" height="7.33" fill="#e9928c"/>
<rect x="166.73" y="266.13" width="5.83" height="7.33" fill="#e9928c"/>
<rect x="171.56" y="266.13" width="5.83" height="7.33" fill="#8d8bc6"/>
<rect x="176.39" y="266.13" width="4.83" height="7.33" fill="#e9928c"/>
<rect x="65.30" y="272.46" width="5.83" height="7.33" fill="#3e4399"/>
<rect x="70.13" y="272.46" width="5.83" height="7.33" fill="#3e4399"/>
<rect x="74.96" y="272.46" width="5.83" height="7.33" fill="#3e4399"/>
<rect x="79.79" y="272.46" width="5.83" height="7.33" fill="#3e4399"/>
<rect x="84.62" y="272.46" width="5.83" height="7.33" fill="#3e4399"/>
<rect x="89.45" y="272.46" width="5.83" height="7.33" fill="#3e4399"/>
<rect x="94.28" y="272.46" width="5.83" height="7.33" fill="#3e4399"/>
<rect x="99.11" y="272.46" width="5.83" height="7.33" fill="#3e4399"/>
<rect x="103.94" y="272.46" width="5.83" height="7.33" fill="#3e4399"/>
<rect x="108.77" y="272.46" width="5.83" height="7.33" fill="#3e4399"/>
<rect x="113.60" y="272.46" width="5.83" height="7.33" fill="#3e4399"/>
<rect x="118.43" y="272.46" width="5.83" height="7.33" fill="#3e4399"/>
<rect x="123.26" y="272.46" width="5.83" height="7.33" fill="#3e4399"/>
<rect x="128.09" y="272.46" width="5.83" height="7.33" fill="#3e4399"/>
<rect x="132.92" y="272.46" width="5.83" height="7.33" fill="#3e4399"/>
<rect x="137.75" y="272.46" width="5.83" height="7.33" fill="#3e4399"/>
<rect x="142.58" y="272.46" width="5.83" height="7.33" fill="#3e4399"/>
<rect x="147.41" y="272.46" width="5.83" height="7.33" fill="#3e4399"/>
<rect x="152.24" y="272.46" width="5.83" height="7.33" fill="#3e4399"/>
<rect x="157.07" y="272.46" width="5.83" height="7.33" fill="#3e4399"/>
<rect x="161.90" y="272.46" width="5.83" height="7.33" fill="#3e4399"/>
<rect x="166.73" y="272.46" width="5.83" height="7.33" fill="#3e4399"/>
<rect x="171.56" y="272.46" width="5.83" height="7.33" fill="#3e4399"/>
<rect x="176.39" y="272.46" width="4.83" height="7.33" fill="#3e4399"/>
<rect x="65.30" y="278.79" width="5.83" height="7.33" fill="#3e4399"/>
<rect x="70.13" y="278.79" width="5.83" height="7.33" fill="#3e4399"/>
<rect x="74.96" y="278.79" width="5.83" height="7.33" fill="#3e4399"/>
<rect x="79.79" y="278.79" width="5.83" height="7.33" fill="#3e4399"/>
<rect x="84.62" y="278.79" width="5.83" height="7.33" fill="#3e4399"/>
<rect x="89.45" y="278.79" width="5.83" height="7.33" fill="#43479d"/>
<rect x="94.28" y="278.79" width="5.83" height="7.33" fill="#43479d"/>
<rect x="99.11" y="278.79" width="5.83" height="7.33" fill="#4f4fa6"/>
<rect x="103.94" y="278.79" width="5.83" height="7.33" fill="#43479d"/>
<rect x="108.77" y="278.79" width="5.83" height="7.33" fill="#43479d"/>
<rect x="113.60" y="278.79" width="5.83" height="7.33" fill="#43479d"/>
<rect x="118.43" y="278.79" width="5.83" height="7.33" fill="#4f4fa6"/>
<rect x="123.26" y="278.79" width="5.83" height="7.33" fill="#43479d"/>
<rect x="128.09" y="278.79" width="5.83" height="7.33" fill="#6765b3"/>
<rect x="132.92" y="278.79" width="5.83" height="7.33" fill="#43479d"/>
<rect x="137.75" y="278.79" width="5.83" height="7.33" fill="#43479d"/>
<rect x="142.58" y="278.79" width="5.83" height="7.33" fill="#4649a0"/>
<rect x="147.41" y="278.79" width="5.83" height="7.33" fill="#4649a0"/>
<rect x="152.24" y="278.79" width="5.83" height="7.33" fill="#3e4399"/>
<rect x="157.07" y="278.79" width="5.83" height="7.33" fill="#3e4399"/>
<rect x="161.90" y="278.79" width="5.83" height="7.33" fill="#3e4399"/>
<rect x="166.73" y="278.79" width="5.83" height="7.33" fill="#3e4399"/>
<rect x="171.56" y="278.79" width="5.83" height="7.33" fill="#3e4399"/>
<rect x="176.39" y="278.79" width="4.83" height="7.33" fill="#3e4399"/>
<rect x="65.30" y="285.12" width="5.83" height="6.33" fill="#3e4399"/>
<rect x="70.13" y="285.12" width="5.83" height="6.33" fill="#3e4399"/>
<rect x="74.96" y="285.12" width="5.83" height="6.33" fill="#3e4399"/>
<rect x="79.79" y="285.12" width="5.83" height="6.33" fill="#3e4399"/>
<rect x="84.62" y="285.12" width="5.83" height="6.33" fill="#3e4399"/>
<rect x="89.45" y="285.12" width="5.83" height="6.33" fill="#43479d"/>
<rect x="94.28" y="285.12" width="5.83" height="6.33" fill="#4649a0"/>
<rect x="99.11" y="285.12" width="5.83" height="6.33" fill="#4649a0"/>
<rect x="103.94" y="285.12" width="5.83" height="6.33" fill="#5b5aac"/>
<rect x="108.77" y="285.12" width="5.83" height="6.33" fill="#a3a0d1"/>
<rect x="113.60" y="285.12" width="5.83" height="6.33" fill="#4649a0"/>
<rect x="118.43" y="285.12" width="5.83" height="6.33" fill="#4f4fa6"/>
<rect x="123.26" y="285.12" width="5.83" height="6.33" fill="#4649a0"/>
<rect x="128.09" y="285.12" width="5.83" height="6.33" fill="#a3a0d1"/>
<rect x="132.92" y="285.12" width="5.83" height="6.33" fill="#4649a0"/>
<rect x="137.75" y="285.12" width="5.83" height="6.33" fill="#4649a0"/>
<rect x="142.58" y="285.12" width="5.83" height="6.33" fill="#5b5aac"/>
<rect x="147.41" y="285.12" width="5.83" height="6.33" fill="#4f4fa6"/>
<rect x="152.24" y="285.12" width="5.83" height="6.33" fill="#43479d"/>
<rect x="157.07" y="285.12" width="5.83" height="6.33" fill="#43479d"/>
<rect x="161.90" y="285.12" width="5.83" height="6.33" fill="#43479d"/>
<rect x="166.73" y="285.12" width="5.83" height="6.33" fill="#4649a0"/>
<rect x="171.56" y="285.12" width="5.83" height="6.33" fill="#43479d"/>
<rect x="176.39" y="285.12" width="4.83" height="6.33" fill="#4649a0"/>
<rect x="187.00" y="252.20" width="19.32" height="5.30" fill="#f0bc16"/>
<rect x="187.00" y="259.80" width="5.83" height="7.33" fill="#4f4fa6"/>
<rect x="191.83" y="259.80" width="5.83" height="7.33" fill="#4f4fa6"/>
<rect x="196.66" y="259.80" width="5.83" height="7.33" fill="#4649a0"/>
<rect x="201.49" y="259.80" width="4.83" height="7.33" fill="#4649a0"/>
<rect x="187.00" y="266.13" width="5.83" height="7.33" fill="#43479d"/>
<rect x="191.83" y="266.13" width="5.83" height="7.33" fill="#43479d"/>
<rect x="196.66" y="266.13" width="5.83" height="7.33" fill="#43479d"/>
<rect x="201.49" y="266.13" width="4.83" height="7.33" fill="#4f4fa6"/>
<rect x="187.00" y="272.46" width="5.83" height="7.33" fill="#5b5aac"/>
<rect x="191.83" y="272.46" width="5.83" height="7.33" fill="#4649a0"/>
<rect x="196.66" y="272.46" width="5.83" height="7.33" fill="#a3a0d1"/>
<rect x="201.49" y="272.46" width="4.83" height="7.33" fill="#4649a0"/>
<rect x="187.00" y="278.79" width="5.83" height="7.33" fill="#a3a0d1"/>
<rect x="191.83" y="278.79" width="5.83" height="7.33" fill="#5b5aac"/>
<rect x="196.66" y="278.79" width="5.83" height="7.33" fill="#4f4fa6"/>
<rect x="201.49" y="278.79" width="4.83" height="7.33" fill="#43479d"/>
<rect x="187.00" y="285.12" width="5.83" height="6.33" fill="#5b5aac"/>
<rect x="191.83" y="285.12" width="5.83" height="6.33" fill="#4f4fa6"/>
<rect x="196.66" y="285.12" width="5.83" height="6.33" fill="#4649a0"/>
<rect x="201.49" y="285.12" width="4.83" height="6.33" fill="#4649a0"/>
<rect x="211.50" y="252.20" width="19.32" height="5.30" fill="#b48ccb"/>
<rect x="211.50" y="259.80" width="5.83" height="7.33" fill="#e0625d"/>
<rect x="216.33" y="259.80" width="5.83" height="7.33" fill="#ce181e"/>
<rect x="221.16" y="259.80" width="5.83" height="7.33" fill="#e9928c"/>
<rect x="225.99" y="259.80" width="4.83" height="7.33" fill="#ce181e"/>
<rect x="211.50" y="266.13" width="5.83" height="7.33" fill="#e0625d"/>
<rect x="216.33" y="266.13" width="5.83" height="7.33" fill="#ce181e"/>
<rect x="221.16" y="266.13" width="5.83" height="7.33" fill="#f2bdb8"/>
<rect x="225.99" y="266.13" width="4.83" height="7.33" fill="#ce181e"/>
<rect x="211.50" y="272.46" width="5.83" height="7.33" fill="#fae6e4"/>
<rect x="216.33" y="272.46" width="5.83" height="7.33" fill="#ffffff"/>
<rect x="221.16" y="272.46" width="5.83" height="7.33" fill="#fae6e4"/>
<rect x="225.99" y="272.46" width="4.83" height="7.33" fill="#fae6e4"/>
<rect x="211.50" y="278.79" width="5.83" height="7.33" fill="#f5d0cc"/>
<rect x="216.33" y="278.79" width="5.83" height="7.33" fill="#eeaaa4"/>
<rect x="221.16" y="278.79" width="5.83" height="7.33" fill="#b9b6dc"/>
<rect x="225.99" y="278.79" width="4.83" height="7.33" fill="#b9b6dc"/>
<rect x="211.50" y="285.12" width="5.83" height="6.33" fill="#b9b6dc"/>
<rect x="216.33" y="285.12" width="5.83" height="6.33" fill="#fae6e4"/>
<rect x="221.16" y="285.12" width="5.83" height="6.33" fill="#b9b6dc"/>
<rect x="225.99" y="285.12" width="4.83" height="6.33" fill="#8d8bc6"/>
<rect x="245.70" y="252.20" width="19.32" height="5.30" fill="#7fae3a"/>
<rect x="245.70" y="259.80" width="5.83" height="7.33" fill="#d53132"/>
<rect x="250.53" y="259.80" width="5.83" height="7.33" fill="#e47a74"/>
<rect x="255.36" y="259.80" width="5.83" height="7.33" fill="#ce181e"/>
<rect x="260.19" y="259.80" width="4.83" height="7.33" fill="#d53132"/>
<rect x="245.70" y="266.13" width="5.83" height="7.33" fill="#d53132"/>
<rect x="250.53" y="266.13" width="5.83" height="7.33" fill="#ce181e"/>
<rect x="255.36" y="266.13" width="5.83" height="7.33" fill="#d53132"/>
<rect x="260.19" y="266.13" width="4.83" height="7.33" fill="#d53132"/>
<rect x="245.70" y="272.46" width="5.83" height="7.33" fill="#b9b6dc"/>
<rect x="250.53" y="272.46" width="5.83" height="7.33" fill="#8d8bc6"/>
<rect x="255.36" y="272.46" width="5.83" height="7.33" fill="#b9b6dc"/>
<rect x="260.19" y="272.46" width="4.83" height="7.33" fill="#b9b6dc"/>
<rect x="245.70" y="278.79" width="5.83" height="7.33" fill="#5b5aac"/>
<rect x="250.53" y="278.79" width="5.83" height="7.33" fill="#4649a0"/>
<rect x="255.36" y="278.79" width="5.83" height="7.33" fill="#b9b6dc"/>
<rect x="260.19" y="278.79" width="4.83" height="7.33" fill="#e2e0f2"/>
<rect x="245.70" y="285.12" width="5.83" height="6.33" fill="#5b5aac"/>
<rect x="250.53" y="285.12" width="5.83" height="6.33" fill="#4649a0"/>
<rect x="255.36" y="285.12" width="5.83" height="6.33" fill="#b9b6dc"/>
<rect x="260.19" y="285.12" width="4.83" height="6.33" fill="#e2e0f2"/>
<rect x="270.20" y="252.20" width="125.58" height="5.30" fill="#62a9e0"/>
<rect x="270.20" y="259.80" width="5.83" height="7.33" fill="#d53132"/>
<rect x="275.03" y="259.80" width="5.83" height="7.33" fill="#d53132"/>
<rect x="279.86" y="259.80" width="5.83" height="7.33" fill="#dc4a46"/>
<rect x="284.69" y="259.80" width="5.83" height="7.33" fill="#d53132"/>
<rect x="289.52" y="259.80" width="5.83" height="7.33" fill="#dc4a46"/>
<rect x="294.35" y="259.80" width="5.83" height="7.33" fill="#e47a74"/>
<rect x="299.18" y="259.80" width="5.83" height="7.33" fill="#e47a74"/>
<rect x="304.01" y="259.80" width="5.83" height="7.33" fill="#fae6e4"/>
<rect x="308.84" y="259.80" width="5.83" height="7.33" fill="#f2bdb8"/>
<rect x="313.67" y="259.80" width="5.83" height="7.33" fill="#e0625d"/>
<rect x="318.50" y="259.80" width="5.83" height="7.33" fill="#4649a0"/>
<rect x="323.33" y="259.80" width="5.83" height="7.33" fill="#f2bdb8"/>
<rect x="328.16" y="259.80" width="5.83" height="7.33" fill="#dc4a46"/>
<rect x="332.99" y="259.80" width="5.83" height="7.33" fill="#ffffff"/>
<rect x="337.82" y="259.80" width="5.83" height="7.33" fill="#f8dbd8"/>
<rect x="342.65" y="259.80" width="5.83" height="7.33" fill="#f8dbd8"/>
<rect x="347.48" y="259.80" width="5.83" height="7.33" fill="#b9b6dc"/>
<rect x="352.31" y="259.80" width="5.83" height="7.33" fill="#ce181e"/>
<rect x="357.14" y="259.80" width="5.83" height="7.33" fill="#ffffff"/>
<rect x="361.97" y="259.80" width="5.83" height="7.33" fill="#ce181e"/>
<rect x="366.80" y="259.80" width="5.83" height="7.33" fill="#ce181e"/>
<rect x="371.63" y="259.80" width="5.83" height="7.33" fill="#ce181e"/>
<rect x="376.46" y="259.80" width="5.83" height="7.33" fill="#ce181e"/>
<rect x="381.29" y="259.80" width="5.83" height="7.33" fill="#ce181e"/>
<rect x="386.12" y="259.80" width="5.83" height="7.33" fill="#dc4a46"/>
<rect x="390.95" y="259.80" width="4.83" height="7.33" fill="#b9b6dc"/>
<rect x="270.20" y="266.13" width="5.83" height="7.33" fill="#ce181e"/>
<rect x="275.03" y="266.13" width="5.83" height="7.33" fill="#ce181e"/>
<rect x="279.86" y="266.13" width="5.83" height="7.33" fill="#ce181e"/>
<rect x="284.69" y="266.13" width="5.83" height="7.33" fill="#ce181e"/>
<rect x="289.52" y="266.13" width="5.83" height="7.33" fill="#ce181e"/>
<rect x="294.35" y="266.13" width="5.83" height="7.33" fill="#ce181e"/>
<rect x="299.18" y="266.13" width="5.83" height="7.33" fill="#ce181e"/>
<rect x="304.01" y="266.13" width="5.83" height="7.33" fill="#ce181e"/>
<rect x="308.84" y="266.13" width="5.83" height="7.33" fill="#d53132"/>
<rect x="313.67" y="266.13" width="5.83" height="7.33" fill="#ce181e"/>
<rect x="318.50" y="266.13" width="5.83" height="7.33" fill="#e47a74"/>
<rect x="323.33" y="266.13" width="5.83" height="7.33" fill="#ce181e"/>
<rect x="328.16" y="266.13" width="5.83" height="7.33" fill="#ce181e"/>
<rect x="332.99" y="266.13" width="5.83" height="7.33" fill="#d53132"/>
<rect x="337.82" y="266.13" width="5.83" height="7.33" fill="#f2bdb8"/>
<rect x="342.65" y="266.13" width="5.83" height="7.33" fill="#e9928c"/>
<rect x="347.48" y="266.13" width="5.83" height="7.33" fill="#ffffff"/>
<rect x="352.31" y="266.13" width="5.83" height="7.33" fill="#ce181e"/>
<rect x="357.14" y="266.13" width="5.83" height="7.33" fill="#d53132"/>
<rect x="361.97" y="266.13" width="5.83" height="7.33" fill="#ce181e"/>
<rect x="366.80" y="266.13" width="5.83" height="7.33" fill="#ce181e"/>
<rect x="371.63" y="266.13" width="5.83" height="7.33" fill="#ce181e"/>
<rect x="376.46" y="266.13" width="5.83" height="7.33" fill="#ce181e"/>
<rect x="381.29" y="266.13" width="5.83" height="7.33" fill="#ce181e"/>
<rect x="386.12" y="266.13" width="5.83" height="7.33" fill="#d53132"/>
<rect x="390.95" y="266.13" width="4.83" height="7.33" fill="#e0625d"/>
<rect x="270.20" y="272.46" width="5.83" height="7.33" fill="#e0625d"/>
<rect x="275.03" y="272.46" width="5.83" height="7.33" fill="#d53132"/>
<rect x="279.86" y="272.46" width="5.83" height="7.33" fill="#eeaaa4"/>
<rect x="284.69" y="272.46" width="5.83" height="7.33" fill="#dc4a46"/>
<rect x="289.52" y="272.46" width="5.83" height="7.33" fill="#fae6e4"/>
<rect x="294.35" y="272.46" width="5.83" height="7.33" fill="#d53132"/>
<rect x="299.18" y="272.46" width="5.83" height="7.33" fill="#d53132"/>
<rect x="304.01" y="272.46" width="5.83" height="7.33" fill="#e0625d"/>
<rect x="308.84" y="272.46" width="5.83" height="7.33" fill="#f2bdb8"/>
<rect x="313.67" y="272.46" width="5.83" height="7.33" fill="#eeaaa4"/>
<rect x="318.50" y="272.46" width="5.83" height="7.33" fill="#4649a0"/>
<rect x="323.33" y="272.46" width="5.83" height="7.33" fill="#e9928c"/>
<rect x="328.16" y="272.46" width="5.83" height="7.33" fill="#f2bdb8"/>
<rect x="332.99" y="272.46" width="5.83" height="7.33" fill="#e2e0f2"/>
<rect x="337.82" y="272.46" width="5.83" height="7.33" fill="#8d8bc6"/>
<rect x="342.65" y="272.46" width="5.83" height="7.33" fill="#5b5aac"/>
<rect x="347.48" y="272.46" width="5.83" height="7.33" fill="#b9b6dc"/>
<rect x="352.31" y="272.46" width="5.83" height="7.33" fill="#e2e0f2"/>
<rect x="357.14" y="272.46" width="5.83" height="7.33" fill="#ffffff"/>
<rect x="361.97" y="272.46" width="5.83" height="7.33" fill="#e2e0f2"/>
<rect x="366.80" y="272.46" width="5.83" height="7.33" fill="#5b5aac"/>
<rect x="371.63" y="272.46" width="5.83" height="7.33" fill="#ce181e"/>
<rect x="376.46" y="272.46" width="5.83" height="7.33" fill="#6765b3"/>
<rect x="381.29" y="272.46" width="5.83" height="7.33" fill="#b9b6dc"/>
<rect x="386.12" y="272.46" width="5.83" height="7.33" fill="#8d8bc6"/>
<rect x="390.95" y="272.46" width="4.83" height="7.33" fill="#4649a0"/>
<rect x="270.20" y="278.79" width="5.83" height="7.33" fill="#4649a0"/>
<rect x="275.03" y="278.79" width="5.83" height="7.33" fill="#b9b6dc"/>
<rect x="279.86" y="278.79" width="5.83" height="7.33" fill="#b9b6dc"/>
<rect x="284.69" y="278.79" width="5.83" height="7.33" fill="#ffffff"/>
<rect x="289.52" y="278.79" width="5.83" height="7.33" fill="#8d8bc6"/>
<rect x="294.35" y="278.79" width="5.83" height="7.33" fill="#e2e0f2"/>
<rect x="299.18" y="278.79" width="5.83" height="7.33" fill="#fae6e4"/>
<rect x="304.01" y="278.79" width="5.83" height="7.33" fill="#b9b6dc"/>
<rect x="308.84" y="278.79" width="5.83" height="7.33" fill="#8d8bc6"/>
<rect x="313.67" y="278.79" width="5.83" height="7.33" fill="#e2e0f2"/>
<rect x="318.50" y="278.79" width="5.83" height="7.33" fill="#4649a0"/>
<rect x="323.33" y="278.79" width="5.83" height="7.33" fill="#ffffff"/>
<rect x="328.16" y="278.79" width="5.83" height="7.33" fill="#b9b6dc"/>
<rect x="332.99" y="278.79" width="5.83" height="7.33" fill="#8d8bc6"/>
<rect x="337.82" y="278.79" width="5.83" height="7.33" fill="#6765b3"/>
<rect x="342.65" y="278.79" width="5.83" height="7.33" fill="#6765b3"/>
<rect x="347.48" y="278.79" width="5.83" height="7.33" fill="#5b5aac"/>
<rect x="352.31" y="278.79" width="5.83" height="7.33" fill="#6765b3"/>
<rect x="357.14" y="278.79" width="5.83" height="7.33" fill="#8d8bc6"/>
<rect x="361.97" y="278.79" width="5.83" height="7.33" fill="#e47a74"/>
<rect x="366.80" y="278.79" width="5.83" height="7.33" fill="#b9b6dc"/>
<rect x="371.63" y="278.79" width="5.83" height="7.33" fill="#4649a0"/>
<rect x="376.46" y="278.79" width="5.83" height="7.33" fill="#fae6e4"/>
<rect x="381.29" y="278.79" width="5.83" height="7.33" fill="#e2e0f2"/>
<rect x="386.12" y="278.79" width="5.83" height="7.33" fill="#b9b6dc"/>
<rect x="390.95" y="278.79" width="4.83" height="7.33" fill="#5b5aac"/>
<rect x="270.20" y="285.12" width="5.83" height="6.33" fill="#4649a0"/>
<rect x="275.03" y="285.12" width="5.83" height="6.33" fill="#8d8bc6"/>
<rect x="279.86" y="285.12" width="5.83" height="6.33" fill="#8d8bc6"/>
<rect x="284.69" y="285.12" width="5.83" height="6.33" fill="#e2e0f2"/>
<rect x="289.52" y="285.12" width="5.83" height="6.33" fill="#4649a0"/>
<rect x="294.35" y="285.12" width="5.83" height="6.33" fill="#b9b6dc"/>
<rect x="299.18" y="285.12" width="5.83" height="6.33" fill="#e2e0f2"/>
<rect x="304.01" y="285.12" width="5.83" height="6.33" fill="#8d8bc6"/>
<rect x="308.84" y="285.12" width="5.83" height="6.33" fill="#6765b3"/>
<rect x="313.67" y="285.12" width="5.83" height="6.33" fill="#8d8bc6"/>
<rect x="318.50" y="285.12" width="5.83" height="6.33" fill="#f0f0f8"/>
<rect x="323.33" y="285.12" width="5.83" height="6.33" fill="#b9b6dc"/>
<rect x="328.16" y="285.12" width="5.83" height="6.33" fill="#8d8bc6"/>
<rect x="332.99" y="285.12" width="5.83" height="6.33" fill="#8d8bc6"/>
<rect x="337.82" y="285.12" width="5.83" height="6.33" fill="#6765b3"/>
<rect x="342.65" y="285.12" width="5.83" height="6.33" fill="#4f4fa6"/>
<rect x="347.48" y="285.12" width="5.83" height="6.33" fill="#6765b3"/>
<rect x="352.31" y="285.12" width="5.83" height="6.33" fill="#8d8bc6"/>
<rect x="357.14" y="285.12" width="5.83" height="6.33" fill="#6765b3"/>
<rect x="361.97" y="285.12" width="5.83" height="6.33" fill="#d53132"/>
<rect x="366.80" y="285.12" width="5.83" height="6.33" fill="#4649a0"/>
<rect x="371.63" y="285.12" width="5.83" height="6.33" fill="#4649a0"/>
<rect x="376.46" y="285.12" width="5.83" height="6.33" fill="#4649a0"/>
<rect x="381.29" y="285.12" width="5.83" height="6.33" fill="#f0f0f8"/>
<rect x="386.12" y="285.12" width="5.83" height="6.33" fill="#8d8bc6"/>
<rect x="390.95" y="285.12" width="4.83" height="6.33" fill="#4649a0"/>
<rect x="401.20" y="252.20" width="19.32" height="5.30" fill="#f0bc16"/>
<rect x="401.20" y="259.80" width="5.83" height="7.33" fill="#fae6e4"/>
<rect x="406.03" y="259.80" width="5.83" height="7.33" fill="#ce181e"/>
<rect x="410.86" y="259.80" width="5.83" height="7.33" fill="#fceeec"/>
<rect x="415.69" y="259.80" width="4.83" height="7.33" fill="#e9928c"/>
<rect x="401.20" y="266.13" width="5.83" height="7.33" fill="#ce181e"/>
<rect x="406.03" y="266.13" width="5.83" height="7.33" fill="#ce181e"/>
<rect x="410.86" y="266.13" width="5.83" height="7.33" fill="#fae6e4"/>
<rect x="415.69" y="266.13" width="4.83" height="7.33" fill="#f2bdb8"/>
<rect x="401.20" y="272.46" width="5.83" height="7.33" fill="#ffffff"/>
<rect x="406.03" y="272.46" width="5.83" height="7.33" fill="#ffffff"/>
<rect x="410.86" y="272.46" width="5.83" height="7.33" fill="#b9b6dc"/>
<rect x="415.69" y="272.46" width="4.83" height="7.33" fill="#e2e0f2"/>
<rect x="401.20" y="278.79" width="5.83" height="7.33" fill="#ffffff"/>
<rect x="406.03" y="278.79" width="5.83" height="7.33" fill="#ffffff"/>
<rect x="410.86" y="278.79" width="5.83" height="7.33" fill="#7a78bc"/>
<rect x="415.69" y="278.79" width="4.83" height="7.33" fill="#43479d"/>
<rect x="401.20" y="285.12" width="5.83" height="6.33" fill="#ffffff"/>
<rect x="406.03" y="285.12" width="5.83" height="6.33" fill="#b9b6dc"/>
<rect x="410.86" y="285.12" width="5.83" height="6.33" fill="#43479d"/>
<rect x="415.69" y="285.12" width="4.83" height="6.33" fill="#43479d"/>
<rect x="426.40" y="252.20" width="19.32" height="5.30" fill="#b48ccb"/>
<rect x="426.40" y="259.80" width="5.83" height="7.33" fill="#e0625d"/>
<rect x="431.23" y="259.80" width="5.83" height="7.33" fill="#ce181e"/>
<rect x="436.06" y="259.80" width="5.83" height="7.33" fill="#d53132"/>
<rect x="440.89" y="259.80" width="4.83" height="7.33" fill="#e47a74"/>
<rect x="426.40" y="266.13" width="5.83" height="7.33" fill="#d53132"/>
<rect x="431.23" y="266.13" width="5.83" height="7.33" fill="#ce181e"/>
<rect x="436.06" y="266.13" width="5.83" height="7.33" fill="#e2706b"/>
<rect x="440.89" y="266.13" width="4.83" height="7.33" fill="#ce181e"/>
<rect x="426.40" y="272.46" width="5.83" height="7.33" fill="#fae6e4"/>
<rect x="431.23" y="272.46" width="5.83" height="7.33" fill="#fae6e4"/>
<rect x="436.06" y="272.46" width="5.83" height="7.33" fill="#ffffff"/>
<rect x="440.89" y="272.46" width="4.83" height="7.33" fill="#f2bdb8"/>
<rect x="426.40" y="278.79" width="5.83" height="7.33" fill="#fceeec"/>
<rect x="431.23" y="278.79" width="5.83" height="7.33" fill="#f2bdb8"/>
<rect x="436.06" y="278.79" width="5.83" height="7.33" fill="#b9b6dc"/>
<rect x="440.89" y="278.79" width="4.83" height="7.33" fill="#ffffff"/>
<rect x="426.40" y="285.12" width="5.83" height="6.33" fill="#e2e0f2"/>
<rect x="431.23" y="285.12" width="5.83" height="6.33" fill="#fae6e4"/>
<rect x="436.06" y="285.12" width="5.83" height="6.33" fill="#e2e0f2"/>
<rect x="440.89" y="285.12" width="4.83" height="6.33" fill="#e2e0f2"/>
<line x1="41.20" y1="232.90" x2="230.70" y2="232.90" stroke="#2e2e2e" stroke-width="1.7"/>
<line x1="244.00" y1="232.90" x2="445.00" y2="232.90" stroke="#2e2e2e" stroke-width="1.7"/>
<text transform="translate(135.40 227.50)" font-size="8.25" text-anchor="middle" fill="#231f20" stroke="#231f20" stroke-width="0.13">CB-NK<tspan font-size="4.54" dy="2.06">im</tspan></text>
<text transform="translate(344.50 227.50)" font-size="7.9" text-anchor="middle" fill="#231f20" stroke="#231f20" stroke-width="0.13">Mature NK</text>
<text transform="translate(51.10 247.00)" font-size="8.0" text-anchor="middle" fill="#231f20" stroke="#231f20" stroke-width="0.13">CB unit</text>
<text transform="translate(123.50 247.30)" font-size="7.8" text-anchor="middle" fill="#231f20" stroke="#231f20" stroke-width="0.13">post-CBT patient</text>
<text transform="translate(196.50 247.20)" font-size="8.05" text-anchor="middle" fill="#231f20" stroke="#231f20" stroke-width="0.13">IL2</text>
<text transform="translate(221.20 247.20)" font-size="8.05" text-anchor="middle" fill="#231f20" stroke="#231f20" stroke-width="0.13">IL15</text>
<text transform="translate(255.40 247.00)" font-size="8.0" text-anchor="middle" fill="#231f20" stroke="#231f20" stroke-width="0.13">CB unit</text>
<text transform="translate(334.20 247.30)" font-size="7.8" text-anchor="middle" fill="#231f20" stroke="#231f20" stroke-width="0.13">post-CBT patients</text>
<text transform="translate(410.90 247.20)" font-size="8.05" text-anchor="middle" fill="#231f20" stroke="#231f20" stroke-width="0.13">IL2</text>
<text transform="translate(436.00 247.20)" font-size="8.05" text-anchor="middle" fill="#231f20" stroke="#231f20" stroke-width="0.13">IL15</text>
<text transform="translate(37.60 265.00)" font-size="8.0" text-anchor="end" fill="#231f20" stroke="#231f20" stroke-width="0.13">GrA</text>
<text transform="translate(37.60 271.33)" font-size="8.0" text-anchor="end" fill="#231f20" stroke="#231f20" stroke-width="0.13">GrB</text>
<text transform="translate(37.60 277.66)" font-size="8.0" text-anchor="end" fill="#231f20" stroke="#231f20" stroke-width="0.13">Perfoin</text>
<text transform="translate(37.60 283.99)" font-size="8.0" text-anchor="end" fill="#231f20" stroke="#231f20" stroke-width="0.13">Tbet</text>
<text transform="translate(37.60 290.32)" font-size="8.0" text-anchor="end" fill="#231f20" stroke="#231f20" stroke-width="0.13">EOMES</text>
<text transform="translate(474.60 247.30)" font-size="7.8" text-anchor="middle" fill="#231f20" stroke="#231f20" stroke-width="0.13">Percentage</text>
<text transform="translate(474.50 256.40)" font-size="7.8" text-anchor="middle" fill="#231f20" stroke="#231f20" stroke-width="0.13">%</text>
<rect x="465.60" y="259.00" width="7.60" height="7.70" fill="#d8684e"/>
<text transform="translate(477.00 265.30)" font-size="7.8" text-anchor="start" fill="#231f20" stroke="#231f20" stroke-width="0.13">80</text>
<rect x="465.60" y="267.10" width="7.60" height="7.70" fill="#f5d4c7"/>
<text transform="translate(477.00 274.00)" font-size="7.8" text-anchor="start" fill="#231f20" stroke="#231f20" stroke-width="0.13">60</text>
<rect x="465.60" y="275.20" width="7.60" height="7.70" fill="#dcd5ec"/>
<text transform="translate(477.00 282.70)" font-size="7.8" text-anchor="start" fill="#231f20" stroke="#231f20" stroke-width="0.13">40</text>
<rect x="465.60" y="283.30" width="7.60" height="7.70" fill="#7c68b9"/>
<text transform="translate(477.00 291.40)" font-size="7.8" text-anchor="start" fill="#231f20" stroke="#231f20" stroke-width="0.13">20</text>
</g>
<g id="panelD">
<line x1="46.80" y1="346.80" x2="46.80" y2="426.00" stroke="#000" stroke-width="1"/>
<line x1="46.30" y1="425.40" x2="143.10" y2="425.40" stroke="#000" stroke-width="1.1"/>
<line x1="44.20" y1="425.40" x2="46.80" y2="425.40" stroke="#000" stroke-width="0.8"/>
<text transform="translate(40.60 428.50)" font-size="8.7" text-anchor="end" fill="#231f20" stroke="#231f20" stroke-width="0.13">0</text>
<line x1="44.20" y1="410.15" x2="46.80" y2="410.15" stroke="#000" stroke-width="0.8"/>
<text transform="translate(40.60 413.25)" font-size="8.7" text-anchor="end" fill="#231f20" stroke="#231f20" stroke-width="0.13">20</text>
<line x1="44.20" y1="394.90" x2="46.80" y2="394.90" stroke="#000" stroke-width="0.8"/>
<text transform="translate(40.60 398.00)" font-size="8.7" text-anchor="end" fill="#231f20" stroke="#231f20" stroke-width="0.13">40</text>
<line x1="44.20" y1="379.65" x2="46.80" y2="379.65" stroke="#000" stroke-width="0.8"/>
<text transform="translate(40.60 382.75)" font-size="8.7" text-anchor="end" fill="#231f20" stroke="#231f20" stroke-width="0.13">60</text>
<line x1="44.20" y1="364.40" x2="46.80" y2="364.40" stroke="#000" stroke-width="0.8"/>
<text transform="translate(40.60 367.50)" font-size="8.7" text-anchor="end" fill="#231f20" stroke="#231f20" stroke-width="0.13">80</text>
<line x1="44.20" y1="349.15" x2="46.80" y2="349.15" stroke="#000" stroke-width="0.8"/>
<text transform="translate(40.60 352.25)" font-size="8.7" text-anchor="end" fill="#231f20" stroke="#231f20" stroke-width="0.13">100</text>
<text transform="translate(21.00 386.20) rotate(-90) scale(0.68 1)" font-size="10.1" text-anchor="middle" fill="#231f20" stroke="#231f20" stroke-width="0.3">%total NK cells</text>
<rect x="56.30" y="349.40" width="19.30" height="76.00" fill="#a50026"/>
<rect x="56.30" y="372.96" width="19.30" height="52.44" fill="#2f4b7c"/>
<rect x="85.30" y="349.40" width="19.30" height="76.00" fill="#a50026"/>
<rect x="85.30" y="394.54" width="19.30" height="30.86" fill="#2f4b7c"/>
<rect x="114.30" y="349.40" width="19.30" height="76.00" fill="#a50026"/>
<rect x="114.30" y="420.84" width="19.30" height="4.56" fill="#2f4b7c"/>
<line x1="65.90" y1="425.40" x2="65.90" y2="428.70" stroke="#000" stroke-width="0.8"/>
<line x1="95.00" y1="425.40" x2="95.00" y2="428.70" stroke="#000" stroke-width="0.8"/>
<line x1="124.20" y1="425.40" x2="124.20" y2="428.70" stroke="#000" stroke-width="0.8"/>
<text transform="translate(68.50 434.50) rotate(-45)" font-size="8.0" text-anchor="end" fill="#231f20" stroke="#231f20" stroke-width="0.13">Baseline</text>
<text transform="translate(98.50 434.50) rotate(-45)" font-size="8.0" text-anchor="end" fill="#231f20" stroke="#231f20" stroke-width="0.13">Day 7 IL2</text>
<text transform="translate(127.50 434.50) rotate(-45)" font-size="8.0" text-anchor="end" fill="#231f20" stroke="#231f20" stroke-width="0.13">Day 7 IL15</text>
<path d="M60.80 333.85 Q60.80 332.60 62.05 332.60 L126.35 332.60 Q127.60 332.60 127.60 333.85" fill="none" stroke="#111" stroke-width="1.0"/>
<path d="M60.80 342.05 Q60.80 340.80 62.05 340.80 L92.35 340.80 Q93.60 340.80 93.60 342.05" fill="none" stroke="#111" stroke-width="1.0"/>
<path d="M95.60 342.05 Q95.60 340.80 96.85 340.80 L126.55 340.80 Q127.80 340.80 127.80 342.05" fill="none" stroke="#111" stroke-width="1.0"/>
<text transform="translate(93.80 332.30)" font-size="7.2" text-anchor="middle" font-weight="bold" fill="#231f20">*</text>
<text transform="translate(77.00 341.00)" font-size="7.2" text-anchor="middle" font-weight="bold" fill="#231f20">*</text>
<text transform="translate(111.80 341.00)" font-size="7.2" text-anchor="middle" font-weight="bold" fill="#231f20">*</text>
<rect x="143.80" y="348.20" width="4.60" height="4.80" fill="#a50026"/>
<rect x="143.80" y="360.40" width="4.60" height="4.80" fill="#2f4b7c"/>
<text transform="translate(151.30 353.30)" font-size="7.8" text-anchor="start" fill="#231f20" stroke="#231f20" stroke-width="0.13">Mature NK</text>
<text transform="translate(151.30 365.40)" font-size="7.9" text-anchor="start" fill="#231f20" stroke="#231f20" stroke-width="0.13">CB-NK<tspan font-size="4.35" dy="1.98">im</tspan></text>
</g>
<g id="panelE">
<text transform="translate(272.00 325.10)" font-size="9.8" text-anchor="start" fill="#231f20" stroke="#231f20" stroke-width="0.13">CB-NK<tspan font-size="5.39" dy="2.45">im</tspan></text>
<line x1="240.80" y1="343.30" x2="240.80" y2="426.00" stroke="#000" stroke-width="1"/>
<line x1="240.30" y1="425.40" x2="338.80" y2="425.40" stroke="#000" stroke-width="1"/>
<line x1="238.20" y1="425.40" x2="240.80" y2="425.40" stroke="#000" stroke-width="0.8"/>
<text transform="translate(235.20 428.50)" font-size="8.7" text-anchor="end" fill="#231f20" stroke="#231f20" stroke-width="0.13">0</text>
<line x1="238.20" y1="405.45" x2="240.80" y2="405.45" stroke="#000" stroke-width="0.8"/>
<text transform="translate(235.20 408.55)" font-size="8.7" text-anchor="end" fill="#231f20" stroke="#231f20" stroke-width="0.13">500</text>
<line x1="238.20" y1="385.50" x2="240.80" y2="385.50" stroke="#000" stroke-width="0.8"/>
<text transform="translate(235.20 388.60)" font-size="8.7" text-anchor="end" fill="#231f20" stroke="#231f20" stroke-width="0.13">1000</text>
<line x1="238.20" y1="365.55" x2="240.80" y2="365.55" stroke="#000" stroke-width="0.8"/>
<text transform="translate(235.20 368.65)" font-size="8.7" text-anchor="end" fill="#231f20" stroke="#231f20" stroke-width="0.13">1500</text>
<line x1="238.20" y1="345.60" x2="240.80" y2="345.60" stroke="#000" stroke-width="0.8"/>
<text transform="translate(235.20 348.70)" font-size="8.7" text-anchor="end" fill="#231f20" stroke="#231f20" stroke-width="0.13">2000</text>
<text transform="translate(209.90 384.00) rotate(-90) scale(0.64 1)" font-size="10.0" text-anchor="middle" fill="#231f20" stroke="#231f20" stroke-width="0.3">Diversity</text>
<path d="M257.00 337.05 Q257.00 335.80 258.25 335.80 L318.05 335.80 Q319.30 335.80 319.30 337.05" fill="none" stroke="#111" stroke-width="1.0"/>
<path d="M257.00 347.45 Q257.00 346.20 258.25 346.20 L286.75 346.20 Q288.00 346.20 288.00 347.45" fill="none" stroke="#111" stroke-width="1.0"/>
<path d="M290.00 347.45 Q290.00 346.20 291.25 346.20 L318.05 346.20 Q319.30 346.20 319.30 347.45" fill="none" stroke="#111" stroke-width="1.0"/>
<text transform="translate(288.20 336.20)" font-size="7.2" text-anchor="middle" font-weight="bold" fill="#231f20">*</text>
<text transform="translate(272.50 344.40)" font-size="6.6" text-anchor="middle" fill="#231f20" stroke="#231f20" stroke-width="0.13">NS</text>
<text transform="translate(304.30 346.00)" font-size="7.2" text-anchor="middle" font-weight="bold" fill="#231f20">*</text>
<line x1="260.40" y1="407.60" x2="260.40" y2="419.40" stroke="#bd1435" stroke-width="1.05"/>
<line x1="255.80" y1="407.60" x2="265.00" y2="407.60" stroke="#bd1435" stroke-width="1.05"/>
<line x1="256.50" y1="419.40" x2="264.30" y2="419.40" stroke="#bd1435" stroke-width="1.05"/>
<rect x="250.60" y="410.70" width="19.60" height="8.00" fill="#a50026"/>
<line x1="250.60" y1="417.40" x2="270.20" y2="417.40" stroke="#000" stroke-width="1"/>
<rect x="285.50" y="404.30" width="8.80" height="3.80" fill="#7f9fd0"/>
<line x1="280.00" y1="406.20" x2="299.40" y2="406.20" stroke="#03071a" stroke-width="1.45"/>
<line x1="319.30" y1="349.60" x2="319.30" y2="386.40" stroke="#77bd55" stroke-width="1.0"/>
<line x1="314.30" y1="349.60" x2="323.80" y2="349.60" stroke="#77bd55" stroke-width="0.9"/>
<line x1="314.30" y1="386.40" x2="323.80" y2="386.40" stroke="#77bd55" stroke-width="0.9"/>
<rect x="309.30" y="355.80" width="19.50" height="26.90" fill="#62ad3f"/>
<line x1="309.30" y1="372.40" x2="328.80" y2="372.40" stroke="#000" stroke-width="1"/>
<line x1="260.50" y1="425.40" x2="260.50" y2="428.60" stroke="#000" stroke-width="0.8"/>
<line x1="289.50" y1="425.40" x2="289.50" y2="428.60" stroke="#000" stroke-width="0.8"/>
<line x1="318.90" y1="425.40" x2="318.90" y2="428.60" stroke="#000" stroke-width="0.8"/>
<text transform="translate(263.50 434.30) rotate(-45)" font-size="8.0" text-anchor="end" fill="#231f20" stroke="#231f20" stroke-width="0.13">Baseline</text>
<text transform="translate(292.80 434.30) rotate(-45)" font-size="8.0" text-anchor="end" fill="#231f20" stroke="#231f20" stroke-width="0.13">Culture with IL2</text>
<text transform="translate(322.30 434.30) rotate(-45)" font-size="8.0" text-anchor="end" fill="#231f20" stroke="#231f20" stroke-width="0.13">Culture with IL15</text>
</g>
<g id="panelF">
<text transform="translate(452.50 333.30)" font-size="9.6" text-anchor="middle" fill="#231f20" stroke="#231f20" stroke-width="0.13">IL15</text>
<line x1="392.00" y1="339.50" x2="392.00" y2="426.00" stroke="#000" stroke-width="1"/>
<line x1="391.50" y1="425.40" x2="513.00" y2="425.40" stroke="#000" stroke-width="1"/>
<line x1="389.40" y1="425.00" x2="392.00" y2="425.00" stroke="#000" stroke-width="0.8"/>
<text transform="translate(386.20 427.90)" font-size="8.7" text-anchor="end" fill="#231f20" stroke="#231f20" stroke-width="0.13">10</text>
<line x1="389.40" y1="404.25" x2="392.00" y2="404.25" stroke="#000" stroke-width="0.8"/>
<text transform="translate(386.20 407.15)" font-size="8.7" text-anchor="end" fill="#231f20" stroke="#231f20" stroke-width="0.13">20</text>
<line x1="389.40" y1="383.50" x2="392.00" y2="383.50" stroke="#000" stroke-width="0.8"/>
<text transform="translate(386.20 386.40)" font-size="8.7" text-anchor="end" fill="#231f20" stroke="#231f20" stroke-width="0.13">30</text>
<line x1="389.40" y1="362.75" x2="392.00" y2="362.75" stroke="#000" stroke-width="0.8"/>
<text transform="translate(386.20 365.65)" font-size="8.7" text-anchor="end" fill="#231f20" stroke="#231f20" stroke-width="0.13">40</text>
<line x1="389.40" y1="342.00" x2="392.00" y2="342.00" stroke="#000" stroke-width="0.8"/>
<text transform="translate(386.20 344.90)" font-size="8.7" text-anchor="end" fill="#231f20" stroke="#231f20" stroke-width="0.13">50</text>
<text transform="translate(360.60 382.00) rotate(-90) scale(0.66 1)" font-size="10.1" text-anchor="middle" fill="#231f20" stroke="#231f20" stroke-width="0.3">IL 15 concentration</text>
<text transform="translate(371.30 382.00) rotate(-90) scale(0.695 1)" font-size="10.1" text-anchor="middle" fill="#231f20" stroke="#231f20" stroke-width="0.3">(pg/ml)</text>
<path d="M423.80 347.05 Q423.80 345.80 425.05 345.80 L482.55 345.80 Q483.80 345.80 483.80 347.05" fill="none" stroke="#111" stroke-width="1.0"/>
<text transform="translate(454.00 345.90)" font-size="7.2" text-anchor="middle" font-weight="bold" fill="#231f20">****</text>
<line x1="422.40" y1="352.50" x2="422.40" y2="412.30" stroke="#bd1435" stroke-width="1.05"/>
<line x1="415.00" y1="352.50" x2="429.50" y2="352.50" stroke="#bd1435" stroke-width="1.05"/>
<line x1="415.00" y1="412.30" x2="429.50" y2="412.30" stroke="#bd1435" stroke-width="1.05"/>
<rect x="402.50" y="369.30" width="40.00" height="34.10" fill="#a50026"/>
<line x1="402.50" y1="389.50" x2="442.50" y2="389.50" stroke="#000" stroke-width="1"/>
<line x1="482.60" y1="380.80" x2="482.60" y2="416.00" stroke="#3d5c9c" stroke-width="1.0"/>
<line x1="475.50" y1="380.80" x2="490.00" y2="380.80" stroke="#3d5c9c" stroke-width="0.9"/>
<line x1="475.50" y1="416.00" x2="490.00" y2="416.00" stroke="#3d5c9c" stroke-width="0.9"/>
<rect x="462.50" y="409.40" width="40.50" height="4.40" fill="#20407a"/>
<line x1="462.50" y1="411.60" x2="503.00" y2="411.60" stroke="#081430" stroke-width="1.6"/>
<line x1="422.30" y1="425.40" x2="422.30" y2="429.60" stroke="#000" stroke-width="0.8"/>
<line x1="482.80" y1="425.40" x2="482.80" y2="429.60" stroke="#000" stroke-width="0.8"/>
<text transform="translate(426.30 434.80) rotate(-45)" font-size="8.0" text-anchor="end" fill="#231f20" stroke="#231f20" stroke-width="0.13">CMV reactive</text>
<text transform="translate(487.00 434.80) rotate(-45)" font-size="8.0" text-anchor="end" fill="#231f20" stroke="#231f20" stroke-width="0.13">CMV inactive</text>
</g>
<rect x="0.5" y="0.5" width="519" height="484" fill="none" stroke="#000" stroke-width="1"/>
</svg></body></html>
